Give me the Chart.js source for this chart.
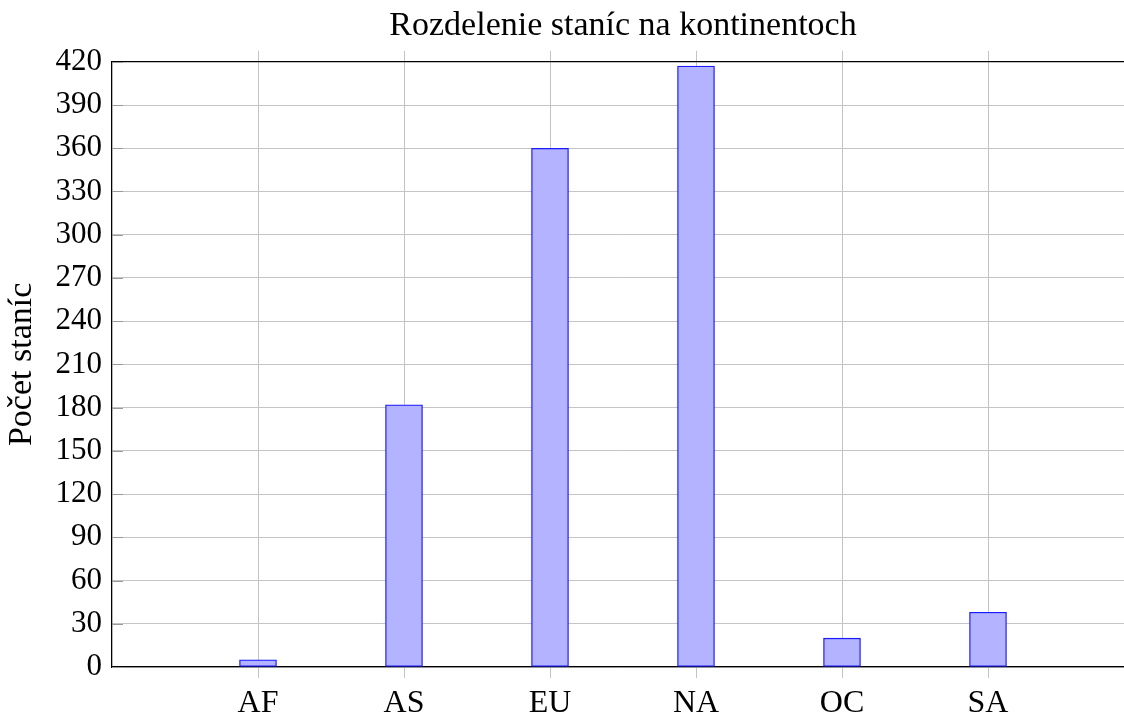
<!DOCTYPE html>
<html>
<head>
<meta charset="utf-8">
<script src="https://cdn.jsdelivr.net/npm/chart.js@4"></script>
<style>
html,body{margin:0;padding:0;overflow:hidden;background:#fff;}
canvas{display:block;}
</style>
</head>
<body>
<canvas id="c" width="1160" height="715" style="width:1160px;height:715px"></canvas>
<script>
const categories = ['AF', 'AS', 'EU', 'NA', 'OC', 'SA'];
const values = [5, 182, 360, 417, 20, 38];
const yTickMin = 0;
const yTickMax = 420;
const yTickStep = 30;
const titleText = 'Rozdelenie staníc na kontinentoch';
const yLabelText = 'Počet staníc';

const FONT = "'Liberation Serif', 'Times New Roman', serif";
const GRID = '#c4c4c4';

const paddedLabels = [''].concat(categories, ['']);
const paddedValues = [null].concat(values, [null]);

const xGridColor = ctx => (ctx.index === 0 || ctx.index === paddedLabels.length - 1) ? 'rgba(0,0,0,0)' : GRID;

const innerTicks = {
  id: 'innerTicks',
  beforeDatasetsDraw(chart) {
    const {ctx, chartArea} = chart;
    const y = chart.scales.y;
    ctx.save();
    ctx.strokeStyle = '#9a9a9a';
    ctx.lineWidth = 1;
    y.ticks.forEach(t => {
      const py = Math.round(y.getPixelForValue(t.value)) + 0.5;
      ctx.beginPath();
      ctx.moveTo(chartArea.left, py);
      ctx.lineTo(chartArea.left + 11, py);
      ctx.stroke();
    });
    ctx.restore();
  }
};

new Chart(document.getElementById('c'), {
  type: 'bar',
  data: {
    labels: paddedLabels,
    datasets: [{
      data: paddedValues,
      backgroundColor: '#b3b3ff',
      borderColor: '#1a1aff',
      borderWidth: 1.3,
      barThickness: 37,
      borderSkipped: false
    }]
  },
  options: {
    responsive: false,
    animation: false,
    layout: { padding: { left: 0, right: 26, top: 0, bottom: 0 } },
    plugins: {
      legend: { display: false },
      tooltip: { enabled: false },
      title: {
        display: true,
        text: titleText,
        fullSize: false,
        color: '#000',
        font: { family: FONT, size: 34, weight: 'normal', lineHeight: 1.2 },
        padding: { top: 6, bottom: 1 }
      }
    },
    scales: {
      x: {
        type: 'category',
        position: 'bottom',
        offset: false,
        afterFit: s => { s.height = 48; },
        grid: { color: xGridColor, lineWidth: 1, tickLength: 11, drawTicks: true, offset: false },
        border: { color: '#000', width: 1.3 },
        ticks: {
          color: '#000',
          padding: 6,
          maxRotation: 0,
          autoSkip: false,
          font: { family: FONT, size: 32 }
        }
      },
      x2: {
        type: 'category',
        position: 'top',
        offset: false,
        labels: paddedLabels,
        afterFit: s => { s.height = 14; },
        grid: { color: xGridColor, lineWidth: 1, tickLength: 11, drawOnChartArea: false, offset: false },
        border: { color: '#000', width: 1.3 },
        ticks: { display: false }
      },
      y: {
        min: yTickMin,
        max: yTickMax,
        afterFit: s => { s.width = 112; },
        grid: { color: GRID, lineWidth: 1, drawTicks: false },
        border: { color: '#000', width: 1.3 },
        ticks: {
          stepSize: yTickStep,
          color: '#000',
          padding: 10,
          font: { family: FONT, size: 31 }
        },
        title: {
          display: true,
          text: yLabelText,
          color: '#000',
          font: { family: FONT, size: 34, lineHeight: 1.2 },
          padding: { top: 2, bottom: 0 }
        }
      }
    }
  },
  plugins: [innerTicks]
});
</script>
</body>
</html>
